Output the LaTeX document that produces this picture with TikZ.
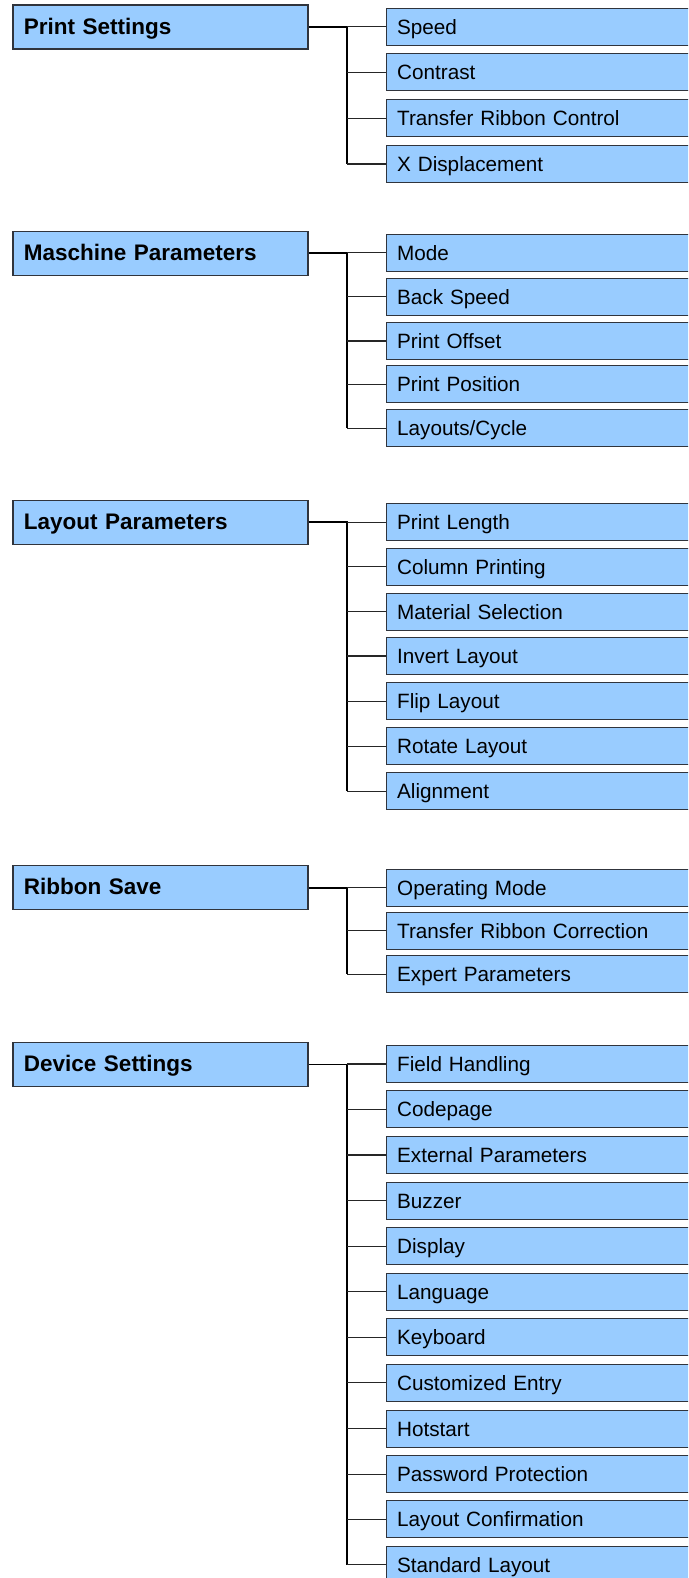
\documentclass[tikz,border=0pt]{standalone}
\usepackage{fontspec}
\setmainfont{Liberation Sans}
\definecolor{boxfill}{HTML}{99CCFF}
\definecolor{boxline}{HTML}{30343C}
\begin{document}
\begin{tikzpicture}[x=1pt,y=-1pt,
 parentbox/.style={draw=boxline, fill=boxfill, line width=1.3pt, rectangle, minimum height=44pt, text width=273pt, inner xsep=11pt, inner ysep=0pt, text height=19pt, text depth=4.6pt, align=left, anchor=west, font=\fontsize{22.5}{26}\selectfont\bfseries},
 childbox/.style={draw=boxline, fill=boxfill, line width=1.3pt, rectangle, minimum height=37pt, text width=285pt, inner xsep=11pt, inner ysep=0pt, text height=19pt, text depth=4pt, align=left, anchor=west, font=\fontsize{20.7}{24}\selectfont},
 trunk/.style={line width=1.8pt, black},
 branch/.style={line width=1.3pt, black!85}]
\useasboundingbox (0,0) rectangle (688,1578);
\clip (0,0) rectangle (688,1578);

% Group 1
\node[parentbox] (ps) at (12.3,27) {Print Settings};
\node[childbox] (ps1) at (385.5,26.7) {Speed};
\node[childbox] (ps2) at (385.5,72.3) {Contrast};
\node[childbox] (ps3) at (385.5,118.3) {Transfer Ribbon Control};
\node[childbox] (ps4) at (385.5,164) {X Displacement};
\coordinate (psj) at (347,27);
\draw[trunk] (ps.east) -- (psj) -- (ps4.west -| psj);
\foreach \c in {ps1,ps2,ps3,ps4} \draw[branch] (\c.west -| psj) -- (\c.west);

% Group 2
\node[parentbox] (mp) at (12.3,253.3) {Maschine Parameters};
\node[childbox] (mp1) at (385.5,252.7) {Mode};
\node[childbox] (mp2) at (385.5,296.7) {Back Speed};
\node[childbox] (mp3) at (385.5,341) {Print Offset};
\node[childbox] (mp4) at (385.5,384.3) {Print Position};
\node[childbox] (mp5) at (385.5,428.3) {Layouts/Cycle};
\coordinate (mpj) at (347,253.3);
\draw[trunk] (mp.east) -- (mpj) -- (mp5.west -| mpj);
\foreach \c in {mp1,mp2,mp3,mp4,mp5} \draw[branch] (\c.west -| mpj) -- (\c.west);

% Group 3
\node[parentbox] (lp) at (12.3,522.3) {Layout Parameters};
\node[childbox] (lp1) at (385.5,522.3) {Print Length};
\node[childbox] (lp2) at (385.5,566.7) {Column Printing};
\node[childbox] (lp3) at (385.5,611.7) {Material Selection};
\node[childbox] (lp4) at (385.5,656) {Invert Layout};
\node[childbox] (lp5) at (385.5,701.3) {Flip Layout};
\node[childbox] (lp6) at (385.5,746.3) {Rotate Layout};
\node[childbox] (lp7) at (385.5,791.3) {Alignment};
\coordinate (lpj) at (347,522.3);
\draw[trunk] (lp.east) -- (lpj) -- (lp7.west -| lpj);
\foreach \c in {lp1,lp2,lp3,lp4,lp5,lp6,lp7} \draw[branch] (\c.west -| lpj) -- (\c.west);

% Group 4
\node[parentbox] (rs) at (12.3,887.7) {Ribbon Save};
\node[childbox] (rs1) at (385.5,887.7) {Operating Mode};
\node[childbox] (rs2) at (385.5,930.7) {Transfer Ribbon Correction};
\node[childbox] (rs3) at (385.5,974.3) {Expert Parameters};
\coordinate (rsj) at (347,887.7);
\draw[trunk] (rs.east) -- (rsj) -- (rs3.west -| rsj);
\foreach \c in {rs1,rs2,rs3} \draw[branch] (\c.west -| rsj) -- (\c.west);

% Group 5
\node[parentbox] (ds) at (12.3,1064.5) {Device Settings};
\node[childbox] (ds1) at (385.5,1064) {Field Handling};
\node[childbox] (ds2) at (385.5,1109.3) {Codepage};
\node[childbox] (ds3) at (385.5,1155) {External Parameters};
\node[childbox] (ds4) at (385.5,1200.7) {Buzzer};
\node[childbox] (ds5) at (385.5,1246.2) {Display};
\node[childbox] (ds6) at (385.5,1291.7) {Language};
\node[childbox] (ds7) at (385.5,1337.2) {Keyboard};
\node[childbox] (ds8) at (385.5,1382.7) {Customized Entry};
\node[childbox] (ds9) at (385.5,1428.7) {Hotstart};
\node[childbox] (ds10) at (385.5,1474.3) {Password Protection};
\node[childbox] (ds11) at (385.5,1519.3) {Layout Confirmation};
\node[childbox] (ds12) at (385.5,1564.7) {Standard Layout};
\coordinate (dsj) at (347,1064.5);
\draw[trunk] (ds.east) -- (dsj) -- (ds12.west -| dsj);
\foreach \c in {ds1,ds2,ds3,ds4,ds5,ds6,ds7,ds8,ds9,ds10,ds11,ds12} \draw[branch] (\c.west -| dsj) -- (\c.west);
\end{tikzpicture}
\end{document}
